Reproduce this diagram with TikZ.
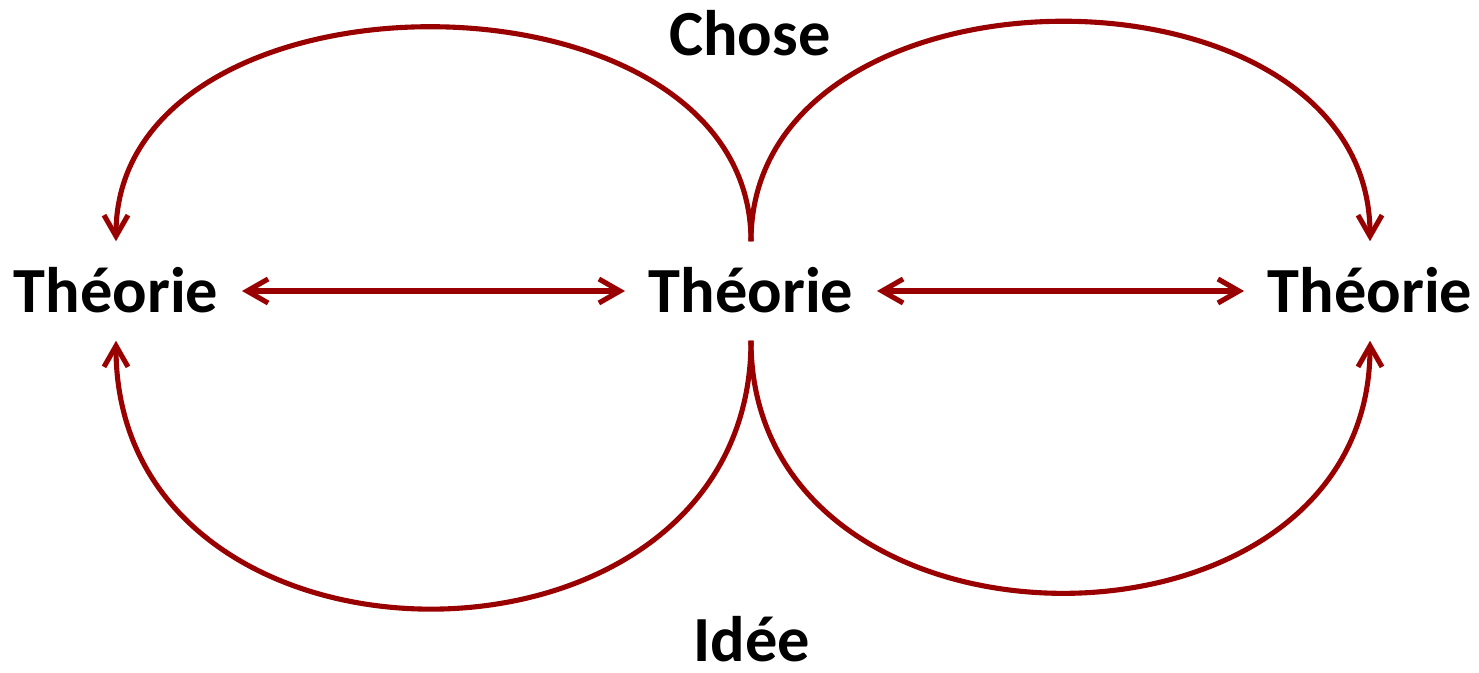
\documentclass[tikz,border=0pt]{standalone}
\usepackage{fontspec}
\setmainfont{Carlito}
\usetikzlibrary{arrows.meta}
\definecolor{cloop}{RGB}{153,0,0}

\begin{document}
\begin{tikzpicture}[
  x=0.01cm, y=-0.01cm,
  >={Straight Barb[length=2.1mm,width=2.4mm]},
  loop/.style={cloop,line width=1.45pt},
  term/.style={font=\fontsize{18.3}{22}\selectfont\bfseries,inner xsep=0.23cm,inner ysep=0pt,
               text height=0.7cm,text depth=0.28cm,anchor=base},
  label/.style={font=\fontsize{18.3}{22}\selectfont\bfseries,anchor=base},
]
\useasboundingbox (0,0) rectangle (1479,672);

% the three theories
\node[term] (tl) at (116,312) {Théorie};
\node[term] (tm) at (751,312) {Théorie};
\node[term] (tr) at (1370,312) {Théorie};

% top and bottom labels
\node[label] (chose) at (750,55) {Chose};
\node[label] (idee) at (752,661) {Idée};

% horizontal links
\draw[loop,<->] (tl.east) -- (tm.west);
\draw[loop,<->] (tm.east) -- (tr.west);

% upper loops
\draw[loop,->] (tm.north) to[out=90,in=90,looseness=1.15] (tl.north);
\draw[loop,->] (tm.north) to[out=90,in=90,looseness=1.21] (tr.north);

% lower loops
\draw[loop,->] (tm.south) to[out=-90,in=-90,looseness=1.44] (tl.south);
\draw[loop,->] (tm.south) to[out=-90,in=-90,looseness=1.39] (tr.south);
\end{tikzpicture}
\end{document}
